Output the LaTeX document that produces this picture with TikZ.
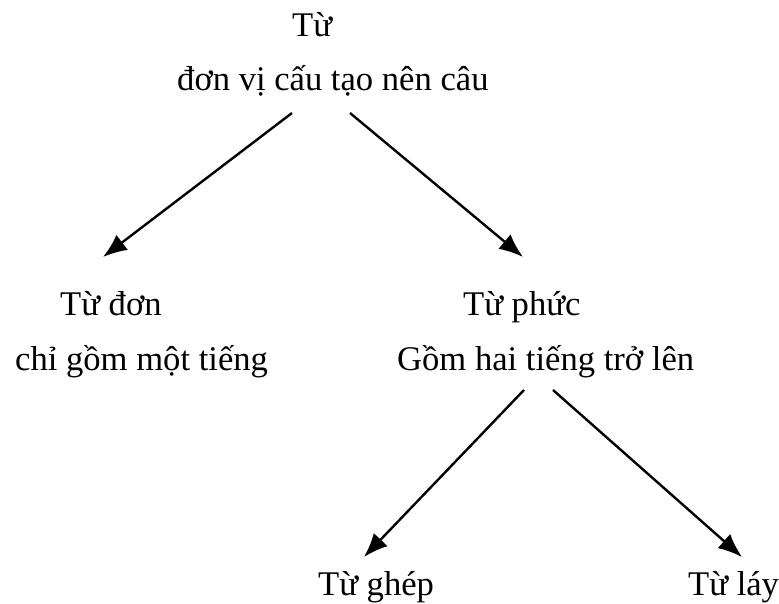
\documentclass[tikz,border=0pt]{standalone}
\usepackage{fontspec}
\setmainfont{Liberation Serif}
\usetikzlibrary{arrows.meta}
\begin{document}
\begin{tikzpicture}[x=1pt,y=-1pt,
  lbl/.style={inner sep=0pt,anchor=base west,font=\fontsize{34.6}{40}\selectfont},
  conn/.style={line width=2.4pt,-{Latex[length=24pt,width=19pt]}}]
\useasboundingbox (0,0) rectangle (779,604);
\node[lbl] (tu) at (292,37) {Từ};
\node[lbl] (tudef) at (177,91) {đơn vị cấu tạo nên câu};
\node[lbl] (don) at (60,315) {Từ đơn};
\node[lbl] (dondef) at (15,370) {chỉ gồm một tiếng};
\node[lbl] (phuc) at (463,315) {Từ phức};
\node[lbl] (phucdef) at (397,370) {Gồm hai tiếng trở lên};
\node[lbl] (ghep) at (318,595) {Từ ghép};
\node[lbl] (lay) at (688,595) {Từ láy};
\coordinate (a1s) at (292,113);
\coordinate (a1e) at (103,257);
\coordinate (a2s) at (350,113);
\coordinate (a2e) at (523,257);
\coordinate (a3s) at (524,390);
\coordinate (a3e) at (364,557);
\coordinate (a4s) at (553,390);
\coordinate (a4e) at (742,557);
\draw[conn] (a1s) -- (a1e);
\draw[conn] (a2s) -- (a2e);
\draw[conn] (a3s) -- (a3e);
\draw[conn] (a4s) -- (a4e);
\end{tikzpicture}
\end{document}
